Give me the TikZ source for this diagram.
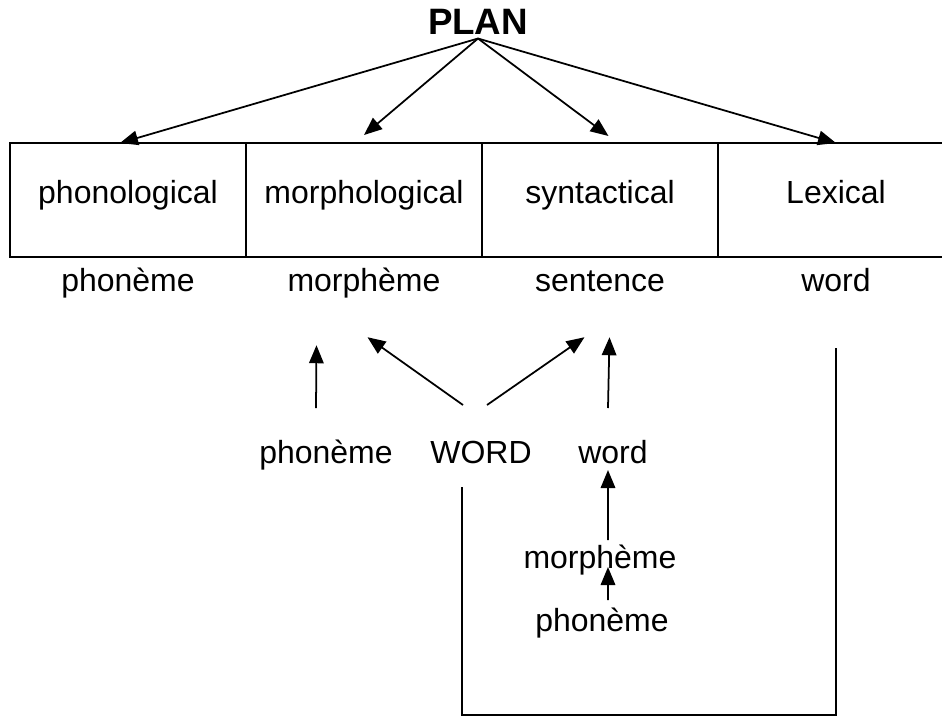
\documentclass[tikz,border=0pt]{standalone}
\usepackage{fontspec}
\setmainfont{Liberation Sans}
\usetikzlibrary{arrows.meta, positioning}

\begin{document}
\begin{tikzpicture}[font=\fontsize{18.2}{22}\selectfont,
  cell/.style={rectangle, draw, line width=0.8pt, minimum width=4.72cm,
               minimum height=2.28cm, inner sep=0pt, outer sep=0pt,
               text height=0.46cm, text depth=0.335cm},
  lbl/.style={inner sep=0pt, text height=0.46cm, text depth=0.135cm},
  a/.style={-{Triangle[length=3.6mm,width=2.9mm]}, line width=1pt},
  ln/.style={line width=0.9pt}]
  \useasboundingbox (0,0) rectangle (18.84,-14.48);
  \node[font=\fontsize{20.9}{24}\selectfont\bfseries, inner sep=2pt] (plan) at (9.56,-0.44) {PLAN};
  \node[cell] (phon) at (2.56,-4.0) {phonological};
  \node[cell, right=0pt of phon] (morph) {morphological};
  \node[cell, right=0pt of morph] (syn) {syntactical};
  \node[cell, right=0pt of syn] (lex) {Lexical};
  \draw[a] (plan.south) -- ([xshift=-0.16cm]phon.north);
  \draw[a] (plan.south) -- ([yshift=0.16cm]morph.north);
  \draw[a] (plan.south) -- ([shift={(0.17,0.14)}]syn.north);
  \draw[a] (plan.south) -- (lex.north);
  % units under each plan
  \node[lbl, below=0.22cm of phon] (phonone) {phonème};
  \node[lbl, below=0.22cm of morph] (morphone) {morphème};
  \node[lbl, below=0.22cm of syn] (sent) {sentence};
  \node[lbl, below=0.22cm of lex] (wordone) {word};
  \node[lbl] (phontwo) at (6.52,-9.1) {phonème};
  \node[lbl] (wordup) at (9.62,-9.1) {WORD};
  \node[lbl] (wordtwo) at (12.26,-9.1) {word};
  \node[lbl] (morphtwo) at (12.0,-11.2) {morphème};
  \node[lbl] (phonthree) at (12.04,-12.46) {phonème};
  \draw[a] ([shift={(-0.2,0.94)}]phontwo.center) -- ([shift={(-0.95,-1.24)}]morphone.center);
  \draw[a] ([shift={(-0.36,1.0)}]wordup.center) -- ([shift={(0.07,-1.08)}]morphone.center);
  \draw[a] ([shift={(0.12,1.0)}]wordup.center) -- ([shift={(-0.31,-1.08)}]sent.center);
  \draw[a] ([shift={(-0.1,0.94)}]wordtwo.center) -- ([shift={(0.19,-1.08)}]sent.center);
  \draw[a] ([shift={(0.16,0.4)}]morphtwo.center) -- ([shift={(-0.1,-0.3)}]wordtwo.center);
  \draw[a] ([shift={(0.12,0.46)}]phonthree.center) -- ([shift={(0.16,-0.14)}]morphtwo.center);
  \draw[ln] ([shift={(-0.38,-0.64)}]wordup.center) -- ++(0,-4.56)
        -| ([shift={(0,-1.3)}]wordone.center);
\end{tikzpicture}
\end{document}
